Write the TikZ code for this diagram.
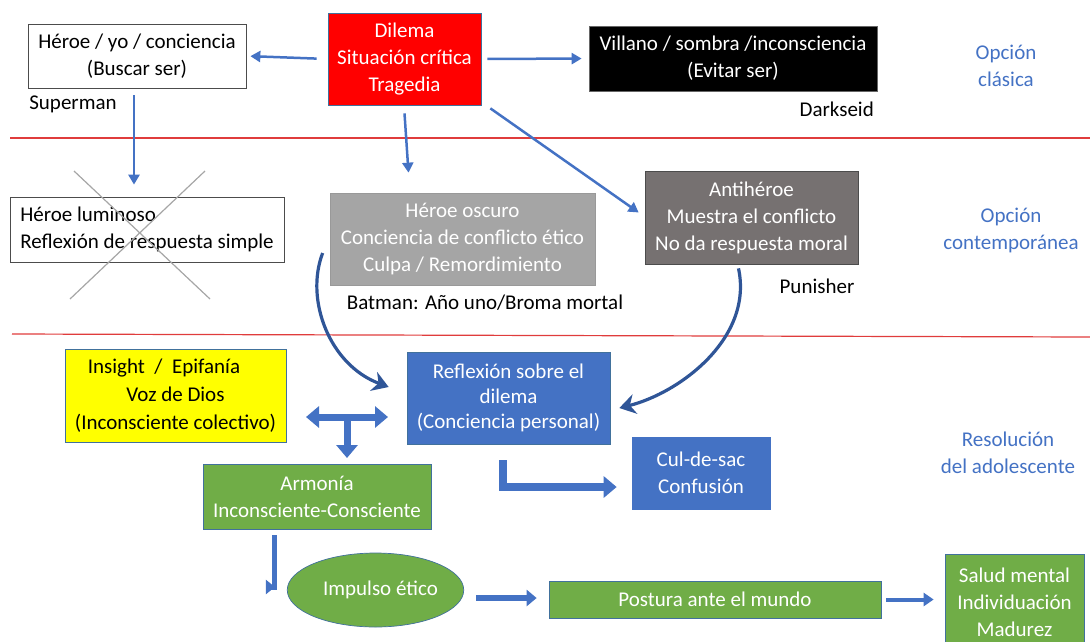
\documentclass[tikz,border=0pt]{standalone}
\usepackage{fontspec}
\setmainfont{Carlito}
\usetikzlibrary{arrows.meta,shapes.geometric}

\definecolor{ppblue}{HTML}{4472C4}
\definecolor{ppdark}{HTML}{2F5597}
\definecolor{ppgreen}{HTML}{70AD47}
\definecolor{ppgray}{HTML}{A5A5A5}
\definecolor{ppdgray}{HTML}{767171}
\definecolor{ppred}{HTML}{FF0000}
\definecolor{ppyellow}{HTML}{FFFF00}
\definecolor{ppline}{HTML}{41719C}
\definecolor{sepred}{HTML}{E03C3C}

\tikzset{
  card/.style={draw=ppline, line width=0.7pt, inner sep=0pt, align=center, text=white,
    font=\fontsize{21}{27}\selectfont},
  plain/.style={card, draw=black!70, fill=white, text=black},
  note/.style={font=\fontsize{21}{27}\selectfont, inner sep=0pt},
  group/.style={note, text=ppblue, align=center},
  link/.style={draw=ppblue, line width=2.5pt, -{Triangle[length=10pt,width=11pt]}},
  curvearrow/.style={draw=ppdark, line width=3.2pt, -{Stealth[length=16pt,width=20pt]}},
  block/.style={draw=ppblue, line width=7pt, line join=miter, -{Triangle[length=13pt,width=21pt]}},
}

\begin{document}
\begin{tikzpicture}[x=1pt,y=-1pt]
  \useasboundingbox (0,0) rectangle (1090,641);

  % separadores
  \draw[sepred, line width=1.2pt] (10,138) -- (1090,138);
  \draw[sepred, line width=1.2pt] (12,334) -- (1090,337);

  % opcion clasica
  \node[plain, minimum width=218, minimum height=64] (heroe) at (137,56) {Héroe / yo / conciencia\\(Buscar ser)};
  \node[card, fill=ppred, minimum width=153, minimum height=92] (dilema) at (404.5,59) {Dilema\\Situación crítica\\Tragedia};
  \node[card, fill=black, draw=black!60, minimum width=288, minimum height=65] (villano) at (733,58.5) {Villano / sombra /inconsciencia\\(Evitar ser)};
  \node[note] (superman) at (73,104) {Superman};
  \node[note, anchor=east] (darkseid) at (874,109) {Darkseid};
  \node[group] (clasica) at (1006,66) {Opción\\clásica};

  % opcion contemporanea
  \node[plain, align=left, minimum width=274, minimum height=65] (luminoso) at (147,229.5) {Héroe luminoso\\Reflexión de respuesta simple};
  \draw[gray!70, line width=1.2pt] (74,171) -- (210,299);
  \draw[gray!70, line width=1.2pt] (205,171) -- (70,299);
  \node[card, fill=ppgray, draw=gray!80, minimum width=265, minimum height=92] (oscuro) at (462.5,239) {Héroe oscuro\\Conciencia de conflicto ético\\Culpa / Remordimiento};
  \node[card, fill=ppdgray, draw=gray!60!black, minimum width=213, minimum height=93] (anti) at (751.5,217.5) {Antihéroe\\Muestra el conflicto\\No da respuesta moral};
  \node[note] (batman) at (485,303) {Batman: Año uno/Broma mortal};
  \node[note] (punisher) at (817,286) {Punisher};
  \node[group] (contemp) at (1011,230) {Opción\\contemporánea};

  % resolucion
  \node[card, fill=ppyellow, text=black, font=\fontsize{21}{28}\selectfont, minimum width=221, minimum height=93] (insight) at (175.5,395.5) {Insight\ \ /\ \ Epifanía\hspace*{23pt}\\Voz de Dios\\(Inconsciente colectivo)};
  \node[card, fill=ppblue, font=\fontsize{21}{25}\selectfont, minimum width=203, minimum height=92] (reflex) at (508.5,398) {Reflexión sobre el\\dilema\\(Conciencia personal)};
  \node[card, fill=ppgreen, minimum width=228, minimum height=65] (armonia) at (317,496.5) {Armonía\\Inconsciente-Consciente};
  \node[card, fill=ppblue, draw=ppblue, minimum width=138, minimum height=72] (culdesac) at (701,473) {Cul-de-sac\\Confusión};
  \node[card, ellipse, fill=ppgreen, minimum width=151, minimum height=74] (impulso) at (375.5,590) {\hspace*{10pt}Impulso ético};
  \node[card, fill=ppgreen, minimum width=332, minimum height=37] (postura) at (715,599.5) {Postura ante el mundo};
  \node[card, fill=ppgreen, minimum width=139, minimum height=96] (salud) at (1014.5,602) {Salud mental\\Individuación\\Madurez};
  \node[group] (resol) at (1008,453) {Resolución\\del adolescente};

  % flechas superiores
  \draw[link, shorten <=11pt, shorten >=4pt] (dilema.west) -- (heroe.east);
  \draw[link, shorten <=6pt, shorten >=7pt] (dilema.east) -- (villano.west);
  \draw[link] ([xshift=-3pt,yshift=-7pt]heroe.south) -- ([xshift=-13pt,yshift=12pt]luminoso.north);
  \draw[link] ([yshift=-8pt]dilema.south) -- ([xshift=-54pt,yshift=20pt]oscuro.north);
  \draw[link] ([xshift=9pt,yshift=-3pt]dilema.south east) -- ([xshift=-6pt,yshift=5pt]anti.west);

  % flechas curvas
  \draw[curvearrow] ([xshift=-7pt,yshift=-14pt]oscuro.west) .. controls +(-18,47) and +(-59,-22) .. ([xshift=-18pt,yshift=11pt]reflex.west);
  \draw[curvearrow] ([xshift=-13pt,yshift=-4pt]anti.south) .. controls +(15,70) and +(60,-15) .. ([xshift=9pt,yshift=-10pt]reflex.east);

  % flechas de bloque
  \coordinate (tleft) at (306,417);
  \coordinate (tright) at (388,417);
  \coordinate (tmid) at (347,417);
  \coordinate (tdown) at (347,458);
  \draw[block, {Triangle[length=13pt,width=21pt]}-{Triangle[length=13pt,width=21pt]}] (tleft) -- (tright);
  \draw[block] (tmid) -- (tdown);
  \draw[block, line width=8pt] ([xshift=-6pt,yshift=-16pt]reflex.south) |- ([xshift=-15pt,yshift=-14pt]culdesac.west);
  \draw[block, line width=5pt, -{Triangle[length=9pt,width=14pt]}] ([xshift=-43pt,yshift=-6pt]armonia.south) |- ([xshift=-12pt,yshift=3pt]impulso.west);
  \draw[block, line width=6pt, -{Triangle[length=10pt,width=16pt]}] ([xshift=12pt,yshift=-8pt]impulso.east) -- ([xshift=-12pt,yshift=1.5pt]postura.west);
  \draw[block, line width=4pt, -{Triangle[length=10pt,width=13pt]}, shorten <=5pt, shorten >=11pt] (postura.east) -- (postura.east -| salud.west);
\end{tikzpicture}
\end{document}
